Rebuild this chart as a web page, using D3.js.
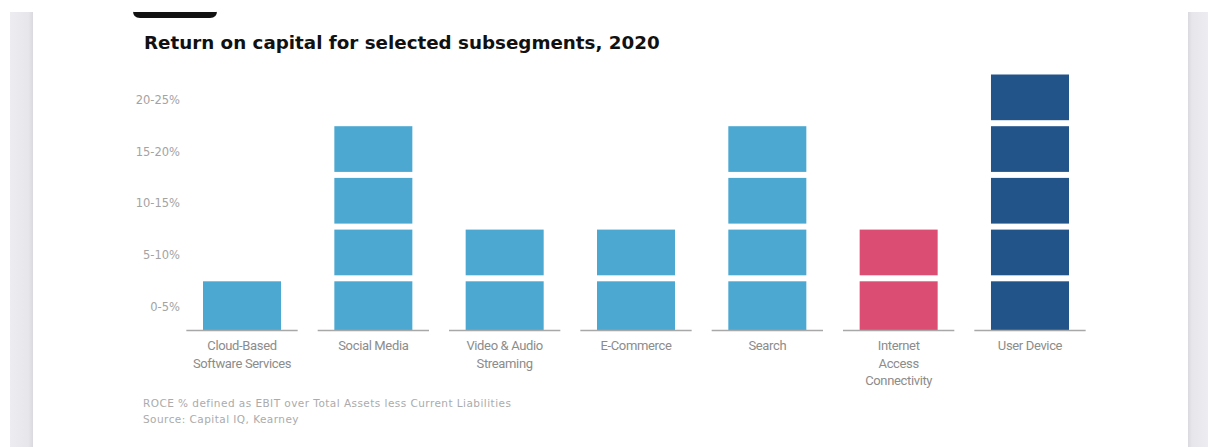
<!DOCTYPE html>
<html>
<head>
<meta charset="utf-8">
<script src="https://cdn.jsdelivr.net/npm/d3@7"></script>
<style>
  body { margin: 0; background: #fff; }
</style>
</head>
<body>
<div id="chart"></div>
<script>
// categories and their wrapped axis labels
var categories = ["Cloud-Based Software Services", "Social Media", "Video & Audio Streaming",
  "E-Commerce", "Search", "Internet Access Connectivity", "User Device"];
var categoryLines = [["Cloud-Based", "Software Services"], ["Social Media"], ["Video & Audio", "Streaming"],
  ["E-Commerce"], ["Search"], ["Internet", "Access", "Connectivity"], ["User Device"]];
// upper end of the ROCE range (%) for each subsegment
var roceTop = [5, 20, 10, 10, 20, 10, 25];
var barColors = ["#4ca8d1", "#4ca8d1", "#4ca8d1", "#4ca8d1", "#4ca8d1", "#dc4d73", "#22548a"];
// y tick labels (one per 5% band)
var bandStarts = [0, 5, 10, 15, 20];
var bandLabels = ["0-5%", "5-10%", "10-15%", "15-20%", "20-25%"];

var width = 1208, height = 447;
var baseline = 330;

var svg = d3.select("#chart").append("svg")
  .attr("width", width)
  .attr("height", height);

// page frame: gray side strips around the white card
var defs = svg.append("defs");
var gl = defs.append("linearGradient").attr("id", "gl");
gl.append("stop").attr("offset", "0%").attr("stop-color", "#ededf1");
gl.append("stop").attr("offset", "80%").attr("stop-color", "#e6e6eb");
gl.append("stop").attr("offset", "100%").attr("stop-color", "#d9d9df");
var gr = defs.append("linearGradient").attr("id", "gr");
gr.append("stop").attr("offset", "0%").attr("stop-color", "#d9d9df");
gr.append("stop").attr("offset", "20%").attr("stop-color", "#e6e6eb");
gr.append("stop").attr("offset", "100%").attr("stop-color", "#ededf1");
svg.append("rect").attr("x", 10).attr("y", 12).attr("width", 23).attr("height", height - 12).attr("fill", "url(#gl)");
svg.append("rect").attr("x", 1188).attr("y", 12).attr("width", 20).attr("height", height - 12).attr("fill", "url(#gr)");

// black tag pill, cut off at the top
svg.append("path")
  .attr("d", "M133,12 L217,12 L217,11 Q217,18 210,18 L140,18 Q133,18 133,11 Z")
  .attr("fill", "#111");

// title
svg.append("text")
  .attr("x", 144)
  .attr("y", 49)
  .attr("font-family", "'DejaVu Sans', sans-serif")
  .attr("font-weight", "bold")
  .attr("font-size", 18.3)
  .attr("fill", "#111")
  .text("Return on capital for selected subsegments, 2020");

var xScale = d3.scaleBand()
  .domain(categories)
  .range([176.35, 1095.65])
  .paddingInner(0.406)
  .paddingOuter(0.203);

var yScale = d3.scaleLinear()
  .domain([0, 25])
  .range([baseline, 71.5]);

// y labels in the middle of each 5% band
svg.selectAll(".ylab")
  .data(bandStarts)
  .enter()
  .append("text")
  .attr("class", "ylab")
  .attr("x", 180)
  .attr("y", d => yScale(d + 2.5) + 2.5)
  .attr("text-anchor", "end")
  .attr("dominant-baseline", "central")
  .attr("font-family", "'DejaVu Sans', sans-serif")
  .attr("font-size", 11.5)
  .attr("fill", "#a3a3a3")
  .text((d, i) => bandLabels[i]);

// one block per 5% band
var blocks = [];
categories.forEach(function (c, i) {
  for (var v = 0; v < roceTop[i]; v += 5) {
    blocks.push({ cat: c, from: v, to: v + 5, color: barColors[i] });
  }
});

svg.selectAll(".block")
  .data(blocks)
  .enter()
  .append("rect")
  .attr("class", "block")
  .attr("x", d => xScale(d.cat))
  .attr("width", xScale.bandwidth())
  .attr("y", d => yScale(d.to) + 3)
  .attr("height", d => (d.from === 0 ? yScale(d.from) : yScale(d.from) - 3) - (yScale(d.to) + 3))
  .attr("fill", d => d.color);

// axis segment under each category
var half = xScale.step() / 2 - 10;
svg.selectAll(".seg")
  .data(categories)
  .enter()
  .append("line")
  .attr("class", "seg")
  .attr("x1", d => xScale(d) + xScale.bandwidth() / 2 - half)
  .attr("x2", d => xScale(d) + xScale.bandwidth() / 2 + half)
  .attr("y1", baseline + 0.5)
  .attr("y2", baseline + 0.5)
  .attr("stroke", "#a8a8a8")
  .attr("stroke-width", 1.3);

// category labels
var labels = svg.selectAll(".xlab")
  .data(categories)
  .enter()
  .append("text")
  .attr("class", "xlab")
  .attr("text-anchor", "middle")
  .attr("font-family", "Roboto, sans-serif")
  .attr("font-size", 13)
  .attr("letter-spacing", -0.35)
  .attr("fill", "#8c8c8c");
labels.selectAll("tspan")
  .data((d, i) => categoryLines[i].map(t => ({ t: t, cx: xScale(d) + xScale.bandwidth() / 2 })))
  .enter()
  .append("tspan")
  .attr("x", d => d.cx)
  .attr("y", (d, j) => 350 + j * 17.5)
  .text(d => d.t);

// footnotes
var notes = ["ROCE % defined as EBIT over Total Assets less Current Liabilities", "Source: Capital IQ, Kearney"];
svg.selectAll(".note")
  .data(notes)
  .enter()
  .append("text")
  .attr("class", "note")
  .attr("x", 143)
  .attr("y", (d, i) => 407 + i * 16)
  .attr("font-family", "'DejaVu Sans', sans-serif")
  .attr("font-size", 10.5)
  .attr("letter-spacing", 0.45)
  .attr("fill", "#ababab")
  .text(d => d);
</script>
</body>
</html>
